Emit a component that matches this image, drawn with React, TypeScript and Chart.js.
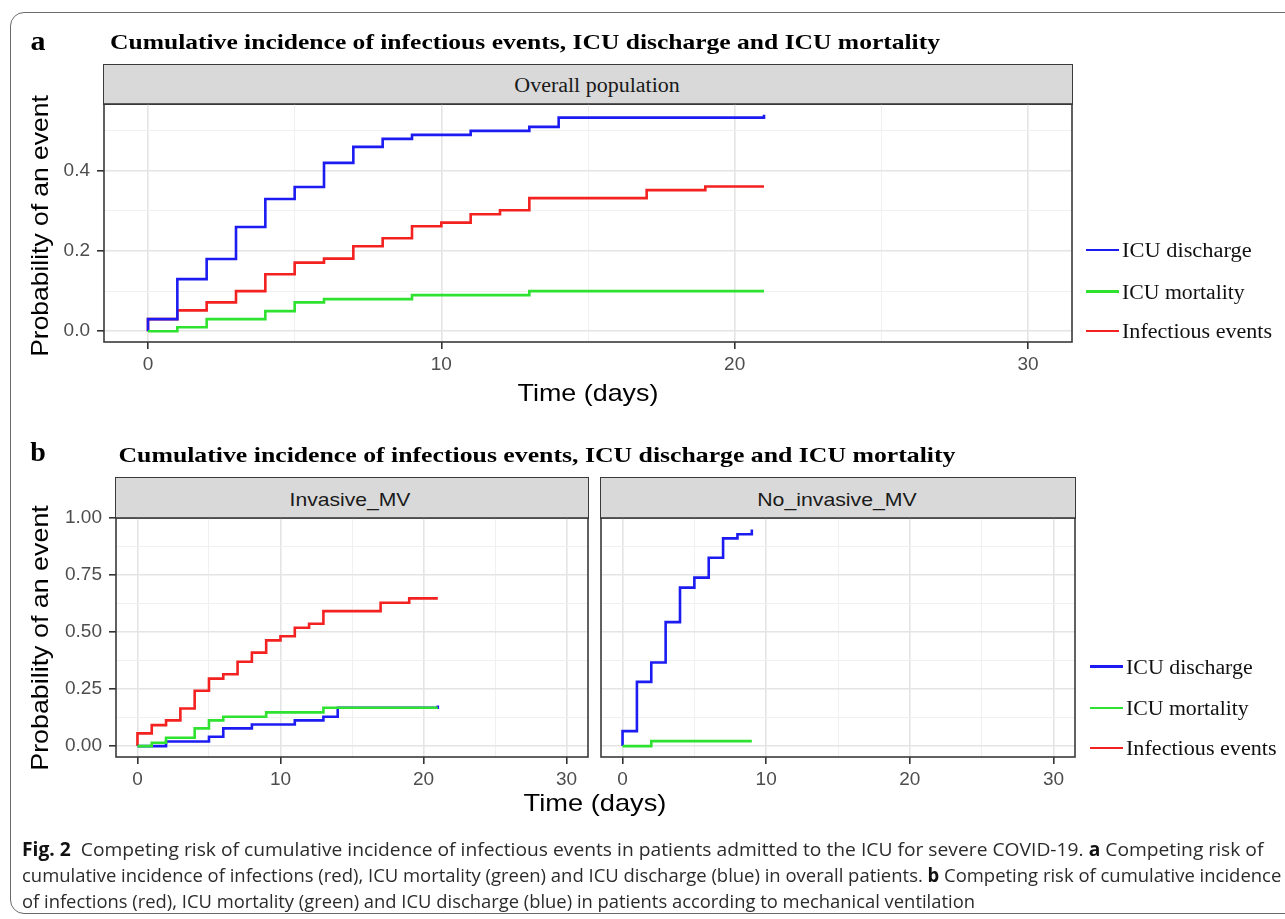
import React, { useEffect, useLayoutEffect, useRef } from 'react';
import { Chart, registerables } from 'chart.js';

Chart.register(...registerables);

const W = 1285;
const H = 919;

// ---------------- Data ----------------
const seriesNames = ['ICU discharge', 'ICU mortality', 'Infectious events'];
const seriesColors = ['#1c1cf2', '#2fe22f', '#f42121'];

// Panel a: overall population
const overallDischargeDays = [0, 0, 1, 2, 3, 4, 5, 6, 7, 8, 9, 11, 13, 14, 21, 21];
const overallDischargeProb = [0, 0.03, 0.13, 0.18, 0.26, 0.33, 0.36, 0.42, 0.46, 0.48, 0.49, 0.5, 0.51, 0.533, 0.533, 0.54];
const overallMortalityDays = [0, 1, 2, 4, 5, 6, 9, 13, 21];
const overallMortalityProb = [0, 0.01, 0.03, 0.05, 0.072, 0.08, 0.09, 0.1, 0.1];
const overallInfectionDays = [0, 0, 1, 2, 3, 4, 5, 6, 7, 8, 9, 10, 11, 12, 13, 17, 19, 21];
const overallInfectionProb = [0, 0.03, 0.052, 0.072, 0.1, 0.142, 0.171, 0.181, 0.212, 0.232, 0.262, 0.271, 0.292, 0.302, 0.332, 0.352, 0.361, 0.361];

// Panel b: Invasive_MV
const invDischargeDays = [0, 2, 5, 6, 8, 11, 13, 14, 21, 21];
const invDischargeProb = [0, 0.02, 0.041, 0.078, 0.095, 0.113, 0.129, 0.168, 0.168, 0.178];
const invMortalityDays = [0, 1, 2, 4, 5, 6, 9, 13, 21];
const invMortalityProb = [0, 0.015, 0.037, 0.078, 0.113, 0.129, 0.148, 0.168, 0.168];
const invInfectionDays = [0, 0, 1, 2, 3, 4, 5, 6, 7, 8, 9, 10, 11, 12, 13, 17, 19, 21];
const invInfectionProb = [0, 0.056, 0.092, 0.113, 0.165, 0.243, 0.296, 0.315, 0.37, 0.41, 0.464, 0.482, 0.519, 0.537, 0.592, 0.629, 0.648, 0.648];

// Panel b: No_invasive_MV
const noInvDischargeDays = [0, 0, 1, 2, 3, 4, 5, 6, 7, 8, 9, 9];
const noInvDischargeProb = [0, 0.066, 0.282, 0.367, 0.544, 0.695, 0.739, 0.826, 0.911, 0.929, 0.929, 0.95];
const noInvMortalityDays = [0, 2, 9];
const noInvMortalityProb = [0, 0.022, 0.022];

// Axis ticks
const timeTicks = [0, 10, 20, 30];
const timeTickLabels = ['0', '10', '20', '30'];
const timeMinorTicks = [5, 15, 25];
const overallProbTicks = [0, 0.2, 0.4];
const overallProbLabels = ['0.0', '0.2', '0.4'];
const overallProbMinor = [0.1, 0.3, 0.5];
const mvProbTicks = [0, 0.25, 0.5, 0.75, 1];
const mvProbLabels = ['0.00', '0.25', '0.50', '0.75', '1.00'];
const mvProbMinor = [0.125, 0.375, 0.625, 0.875];

const SANS = "'Liberation Sans', Arial, sans-serif";
const SERIF = "'Liberation Serif', 'Times New Roman', serif";
const CAPTION = "'Open Sans', 'Noto Sans', sans-serif";

type Area = { left: number; top: number; right: number; bottom: number };
type Series = { days: number[]; prob: number[]; color: string; order: number };

function makeAxis(
  isX: boolean,
  min: number,
  max: number,
  major: number[],
  labels: string[],
  minor: number[],
  showLabels: boolean,
  showTicks: boolean,
  fit: number
) {
  const all = [...major, ...minor].sort((a, b) => a - b);
  const isMajor = (v: number) => major.indexOf(v) >= 0;
  return {
    type: 'linear',
    min,
    max,
    afterBuildTicks: (s: any) => {
      s.ticks = all.map((v) => ({ value: v }));
    },
    afterFit: (s: any) => {
      if (isX) s.height = fit;
      else s.width = fit;
    },
    ticks: {
      autoSkip: false,
      maxRotation: 0,
      minRotation: 0,
      padding: isX ? 4 : 7,
      color: '#4d4d4d',
      font: { family: SANS, size: 19 },
      callback: (v: number) => {
        const i = major.indexOf(v);
        return showLabels && i >= 0 ? labels[i] : '';
      },
    },
    grid: {
      drawTicks: true,
      tickLength: 7,
      color: (c: any) => (isMajor(c.tick?.value) ? '#e4e4e4' : '#f0f0f0'),
      lineWidth: (c: any) => (isMajor(c.tick?.value) ? 1.6 : 1),
      tickColor: (c: any) => (showTicks && isMajor(c.tick?.value) ? '#333333' : 'rgba(0,0,0,0)'),
      tickWidth: 1.6,
    },
    border: { display: false },
  };
}

const borderPlugin = {
  id: 'panelBorder',
  afterDatasetsDraw(chart: any) {
    const { ctx, chartArea: a } = chart;
    ctx.save();
    ctx.strokeStyle = '#3a3a3a';
    ctx.lineWidth = 1.6;
    ctx.strokeRect(a.left, a.top, a.right - a.left, a.bottom - a.top);
    ctx.restore();
  },
};

function makeChart(
  canvas: HTMLCanvasElement,
  area: Area,
  series: Series[],
  yMin: number,
  yMax: number,
  yMajor: number[],
  yLabels: string[],
  yMinor: number[],
  showY: boolean
) {
  const yW = 80;
  const xH = 40;
  return new Chart(canvas, {
    type: 'line',
    data: {
      datasets: series.map((s) => ({
        data: s.days.map((d, i) => ({ x: d, y: s.prob[i] })),
        borderColor: s.color,
        borderWidth: 2.6,
        stepped: true,
        pointRadius: 0,
        fill: false,
        order: s.order,
      })),
    },
    options: {
      responsive: false,
      animation: false,
      events: [],
      layout: {
        padding: {
          left: area.left - yW,
          top: area.top,
          right: W - area.right,
          bottom: H - area.bottom - xH,
        },
      },
      plugins: { legend: { display: false }, tooltip: { enabled: false } },
      scales: {
        x: makeAxis(true, -1.5, 31.5, timeTicks, timeTickLabels, timeMinorTicks, true, true, xH),
        y: makeAxis(false, yMin, yMax, yMajor, yLabels, yMinor, showY, showY, yW),
      },
    } as any,
    plugins: [borderPlugin],
  });
}

function Fit(props: {
  cx: number;
  cy: number;
  w: number;
  rot?: number;
  left?: boolean;
  style?: any;
  children: any;
}) {
  const ref = useRef<HTMLDivElement>(null);
  const { cx, cy, w, rot = 0, left = false } = props;
  useLayoutEffect(() => {
    const el = ref.current;
    if (!el) return;
    const nat = el.offsetWidth || 1;
    const k = w / nat;
    el.style.transform = left
      ? `translateY(-50%) scaleX(${k})`
      : `translate(-50%,-50%) rotate(${rot}deg) scaleX(${k})`;
  }, [w, rot, left]);
  return (
    <div
      ref={ref}
      style={{
        position: 'absolute',
        left: cx,
        top: cy,
        whiteSpace: 'nowrap',
        lineHeight: 1,
        transformOrigin: left ? 'left center' : 'center center',
        ...props.style,
      }}
    >
      {props.children}
    </div>
  );
}

const areaA: Area = { left: 104, top: 104, right: 1072, bottom: 342 };
const areaBL: Area = { left: 116, top: 518, right: 588, bottom: 757 };
const areaBR: Area = { left: 601, top: 518, right: 1075, bottom: 757 };

function Strip({ area, top, label, font, size, cx, w, color }: any) {
  return (
    <>
      <div
        style={{
          position: 'absolute',
          left: area.left - 0.8,
          top: top,
          width: area.right - area.left + 1.6,
          height: area.top - top + 0.8,
          background: '#d9d9d9',
          border: '1.6px solid #3a3a3a',
          boxSizing: 'border-box',
        }}
      />
      <Fit cx={cx} cy={(top + area.top) / 2 + 1} w={w} style={{ fontFamily: font, fontSize: size, color }}>
        {label}
      </Fit>
    </>
  );
}

function Legend({ lineX1, lineX2, textX, ys, widths }: any) {
  return (
    <>
      {seriesNames.map((n, i) => (
        <React.Fragment key={n}>
          <div
            style={{
              position: 'absolute',
              left: lineX1,
              top: ys[i] - 1.2,
              width: lineX2 - lineX1,
              height: 2.5,
              background: seriesColors[i],
            }}
          />
          <Fit cx={textX} cy={ys[i]} w={widths[i]} left style={{ fontFamily: SERIF, fontSize: 20, color: '#111' }}>
            {n}
          </Fit>
        </React.Fragment>
      ))}
    </>
  );
}

export default function App() {
  const refA = useRef<HTMLCanvasElement>(null);
  const refBL = useRef<HTMLCanvasElement>(null);
  const refBR = useRef<HTMLCanvasElement>(null);

  useEffect(() => {
    const [blue, green, red] = seriesColors;
    const charts = [
      makeChart(
        refA.current!,
        areaA,
        [
          { days: overallMortalityDays, prob: overallMortalityProb, color: green, order: 0 },
          { days: overallDischargeDays, prob: overallDischargeProb, color: blue, order: 1 },
          { days: overallInfectionDays, prob: overallInfectionProb, color: red, order: 2 },
        ],
        -0.027,
        0.567,
        overallProbTicks,
        overallProbLabels,
        overallProbMinor,
        true
      ),
      makeChart(
        refBL.current!,
        areaBL,
        [
          { days: invMortalityDays, prob: invMortalityProb, color: green, order: 0 },
          { days: invDischargeDays, prob: invDischargeProb, color: blue, order: 1 },
          { days: invInfectionDays, prob: invInfectionProb, color: red, order: 2 },
        ],
        -0.0477,
        1.0005,
        mvProbTicks,
        mvProbLabels,
        mvProbMinor,
        true
      ),
      makeChart(
        refBR.current!,
        areaBR,
        [
          { days: noInvMortalityDays, prob: noInvMortalityProb, color: green, order: 0 },
          { days: noInvDischargeDays, prob: noInvDischargeProb, color: blue, order: 1 },
        ],
        -0.0477,
        1.0005,
        mvProbTicks,
        mvProbLabels,
        mvProbMinor,
        false
      ),
    ];
    return () => charts.forEach((c) => c.destroy());
  }, []);

  const canvasStyle: any = { position: 'absolute', left: 0, top: 0, width: W, height: H };
  const title = 'Cumulative incidence of infectious events, ICU discharge and ICU mortality';
  const capStyle = { fontFamily: CAPTION, fontSize: 19, color: '#2b2b2b' };

  return (
    <div style={{ position: 'absolute', left: 0, top: 0, width: W, height: H, overflow: 'hidden', background: '#fff' }}>
      <div
        style={{
          position: 'absolute',
          left: 10,
          top: 12,
          width: 1300,
          height: 902,
          border: '1.3px solid #6a6a6a',
          borderRadius: 14,
          boxSizing: 'border-box',
        }}
      />

      <Strip area={areaA} top={64} label="Overall population" font={SERIF} size={20} cx={597} w={166} color="#1a1a1a" />
      <Strip area={areaBL} top={477} label="Invasive_MV" font={SANS} size={19} cx={349.5} w={121} color="#1a1a1a" />
      <Strip area={areaBR} top={477} label="No_invasive_MV" font={SANS} size={19} cx={836.5} w={160} color="#1a1a1a" />

      <canvas ref={refA} width={W} height={H} style={canvasStyle} />
      <canvas ref={refBL} width={W} height={H} style={canvasStyle} />
      <canvas ref={refBR} width={W} height={H} style={canvasStyle} />

      <Fit cx={38} cy={41} w={15} style={{ fontFamily: SERIF, fontWeight: 'bold', fontSize: 28 }}>a</Fit>
      <Fit cx={525} cy={42} w={830} style={{ fontFamily: SERIF, fontWeight: 'bold', fontSize: 22 }}>{title}</Fit>
      <Fit cx={38} cy={452} w={16} style={{ fontFamily: SERIF, fontWeight: 'bold', fontSize: 28 }}>b</Fit>
      <Fit cx={536.5} cy={455} w={837} style={{ fontFamily: SERIF, fontWeight: 'bold', fontSize: 22 }}>{title}</Fit>

      <Fit cx={40} cy={225.5} w={261} rot={-90} style={{ fontFamily: SANS, fontSize: 24, color: '#000' }}>Probability of an event</Fit>
      <Fit cx={40} cy={637.5} w={265} rot={-90} style={{ fontFamily: SANS, fontSize: 24, color: '#000' }}>Probability of an event</Fit>
      <Fit cx={587.5} cy={393} w={141} style={{ fontFamily: SANS, fontSize: 24, color: '#000' }}>Time (days)</Fit>
      <Fit cx={594.5} cy={803} w={143} style={{ fontFamily: SANS, fontSize: 24, color: '#000' }}>Time (days)</Fit>

      <Legend lineX1={1086} lineX2={1119} textX={1122} ys={[250, 291.5, 331]} widths={[130, 123, 150]} />
      <Legend lineX1={1090} lineX2={1123} textX={1126} ys={[666.5, 708, 748]} widths={[127, 123, 150.5]} />

      <Fit cx={22} cy={849} w={1241} left style={capStyle}>
        <b style={{ color: '#111' }}>Fig. 2</b>&nbsp; Competing risk of cumulative incidence of infectious events in patients admitted to the ICU for severe COVID-19. <b style={{ color: '#111' }}>a</b> Competing risk of
      </Fit>
      <Fit cx={22} cy={875} w={1259} left style={capStyle}>
        cumulative incidence of infections (red), ICU mortality (green) and ICU discharge (blue) in overall patients. <b style={{ color: '#111' }}>b</b> Competing risk of cumulative incidence
      </Fit>
      <Fit cx={22} cy={901} w={953} left style={capStyle}>
        of infections (red), ICU mortality (green) and ICU discharge (blue) in patients according to mechanical ventilation
      </Fit>
    </div>
  );
}
